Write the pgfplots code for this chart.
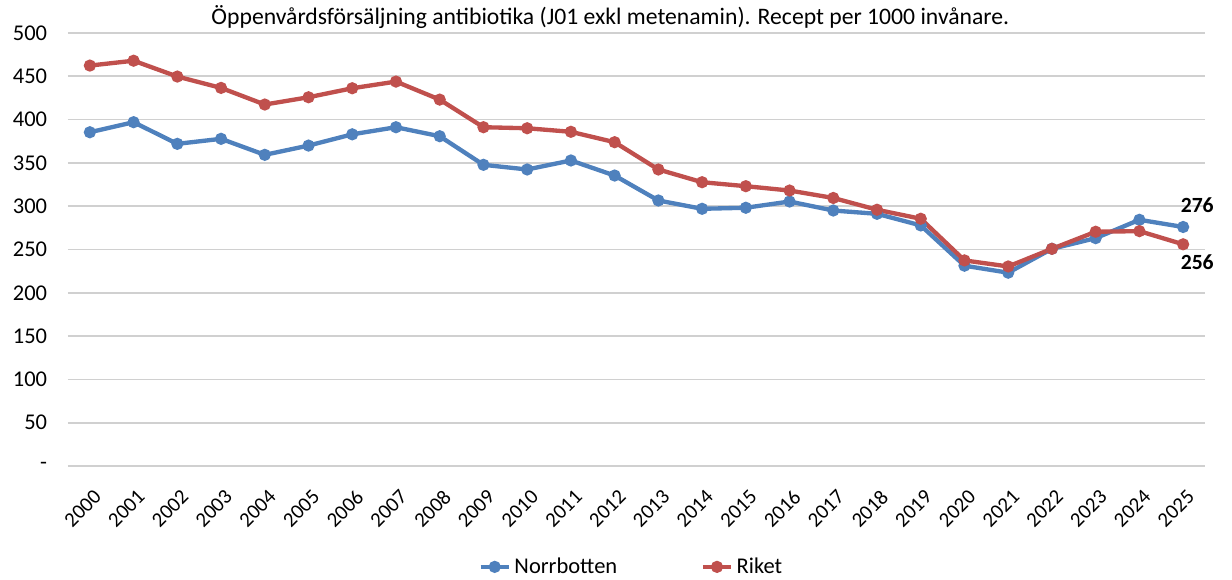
\documentclass[border=0pt]{standalone}
\usepackage{fontspec}
\setmainfont{Carlito}
\usepackage{pgfplots}
\pgfplotsset{compat=1.18}
\definecolor{nbblue}{HTML}{4F81BD}
\definecolor{rkred}{HTML}{C0504D}
\definecolor{gridgray}{HTML}{D0D0D0}
\begin{document}
\begin{tikzpicture}[x=0.6pt,y=0.6pt]
\path[use as bounding box] (-68,-114) rectangle (1164,466);
\begin{axis}[
  at={(0,0)}, anchor=south west,
  scale only axis,
  width=1137*0.6pt, height=433*0.6pt,
  xmin=-0.5, xmax=25.5, ymin=0, ymax=500,
  xtick={0,...,25},
  xticklabels={2000,2001,2002,2003,2004,2005,2006,2007,2008,2009,2010,2011,2012,2013,2014,2015,2016,2017,2018,2019,2020,2021,2022,2023,2024,2025},
  ytick={0,50,...,500},
  yticklabels={-,50,100,150,200,250,300,350,400,450,500},
  x tick label style={rotate=45, anchor=east, yshift=-15pt, xshift=-5pt, font=\fontsize{12.5}{14}\selectfont},
  y tick label style={font=\fontsize{13.5}{15}\selectfont, xshift=-9pt},
  /pgf/number format/assume math mode=true,
  major tick length=0pt,
  axis line style={draw=none},
  ymajorgrids,
  grid style={gridgray, line width=1pt},
  legend style={at={(0.496,-0.233)}, anchor=center, draw=none, legend columns=2,
    font=\fontsize{13.5}{15}\selectfont,
    /tikz/every even column/.append style={column sep=48pt}},
  clip=false,
]
\addplot[nbblue, line width=2.6pt, mark=*, mark size=2.3pt] coordinates {
(0,385.4) (1,397) (2,372) (3,377.8) (4,359.3) (5,370) (6,383) (7,391.2) (8,380.8) (9,347.8)
(10,342.4) (11,352.8) (12,335.4) (13,306.6) (14,297) (15,298.2) (16,305.4) (17,295) (18,291.2) (19,277.8)
(20,231.3) (21,223.2) (22,250.8) (23,263.1) (24,284.3) (25,276)
};
\addlegendentry{Norrbotten}
\addplot[rkred, line width=2.6pt, mark=*, mark size=2.3pt] coordinates {
(0,462.4) (1,468) (2,449.7) (3,436.6) (4,417.4) (5,425.8) (6,436.2) (7,443.9) (8,423.1) (9,391.2)
(10,390) (11,385.9) (12,373.9) (13,342.4) (14,327.7) (15,323.1) (16,318.1) (17,309.5) (18,295.9) (19,285.5)
(20,237.4) (21,230.4) (22,250.8) (23,270.5) (24,271.2) (25,256)
};
\addlegendentry{Riket}
\node[anchor=south west, font=\bfseries\fontsize{13}{15}\selectfont, inner sep=1pt] at (axis cs:24.9,290) {276};
\node[anchor=north west, font=\bfseries\fontsize{13}{15}\selectfont, inner sep=1pt] at (axis cs:24.9,246) {256};
\node[font=\fontsize{14.2}{16}\selectfont] at (rel axis cs:0.477,1) [yshift=9.6pt] {Öppenvårdsförsäljning antibiotika (J01 exkl metenamin). Recept per 1000 invånare.};
\end{axis}
\end{tikzpicture}
\end{document}
